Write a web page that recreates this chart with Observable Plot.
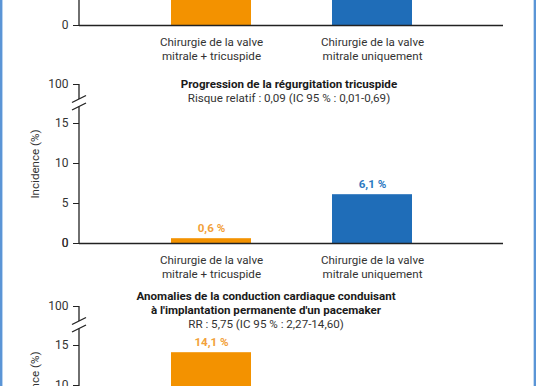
<!DOCTYPE html>
<html><head><meta charset="utf-8">
<script src="https://cdn.jsdelivr.net/npm/d3@7"></script>
<script src="https://cdn.jsdelivr.net/npm/@observablehq/plot@0.6"></script>
<style>
html,body{margin:0;padding:0;background:#fff;}
#wrap{position:relative;width:536px;height:386px;overflow:hidden;background:#fff;font-family:Roboto,sans-serif;}
.panel{position:absolute;left:0;}
.panel svg{background:transparent !important;}
.title{position:absolute;width:420px;text-align:center;font-size:11.6px;line-height:14px;color:#333;}
.title b{font-weight:700;color:#1a1a1a;}
.bl{position:absolute;top:0;height:386px;}
</style></head><body><div id="wrap"></div>
<script>
// ---- data ----
const categories = ["Chirurgie de la valve\nmitrale + tricuspide", "Chirurgie de la valve\nmitrale uniquement"];
const barColors = ["#F39200", "#1F6DB8"];
const labelColors = ["#F2A13A", "#2B79C2"];
const yTicks = [0, 5, 10, 15, 100];
const yLabel = "Incidence (%)";
// top panel (cut off in the picture: only the baseline is visible)
const valuesTop = [9.5, 10.5];
// middle panel
const titleMiddle = ["Progression de la régurgitation tricuspide"];
const subtitleMiddle = ["Risque relatif : 0,09 (IC 95 % : 0,01-0,69)"];
const valuesMiddle = [0.6, 6.1];
// bottom panel
const titleBottom = ["Anomalies de la conduction cardiaque conduisant", "à l'implantation permanente d'un pacemaker"];
const subtitleBottom = ["RR : 5,75 (IC 95 % : 2,27-14,60)"];
const valuesBottom = [14.1, 2.5];

const FONT = "Roboto, sans-serif";

const breakAxis = (index, scales, values, dims) => {
  const y = scales.y, x0 = dims.marginLeft;
  const top = y(yTicks[yTicks.length - 1]);
  const up = top + 15, lo = top + 22.5;
  const g = d3.create("svg:g").attr("stroke", "#222").attr("stroke-width", 1.3).attr("fill", "none");
  g.append("line").attr("x1", x0).attr("x2", x0).attr("y1", top).attr("y2", up);
  g.append("line").attr("x1", x0).attr("x2", x0).attr("y1", lo).attr("y2", y(0));
  for (const c of [up, lo]) g.append("line").attr("x1", x0 - 7).attr("x2", x0 + 7).attr("y1", c + 3.5).attr("y2", c - 3.5);
  return g.node();
};

function makePanel(values, full) {
  const data = categories.map((c, i) => ({cat: c, value: values[i], i,
    label: values[i].toFixed(1).replace(".", ",") + " %"}));
  const H = 270, mt = 60, y0 = 219;
  const marks = [
    Plot.barY(data, {x: "cat", y: "value", fill: "cat"}),
    Plot.ruleY([0], {stroke: "#222", strokeWidth: 1.3}),
    Plot.axisY({ticks: full ? yTicks : [], tickSize: 6, tickPadding: 5, label: null, stroke: "#222", fontSize: 12, tickFormat: d => String(d)}),
    Plot.axisY({ticks: [0], tickSize: 6, tickPadding: 5, label: null, stroke: "#222", fontSize: 12, tickFormat: d => String(d)}),
    Plot.axisX({tickSize: 0, tickPadding: 11, lineHeight: 1.2, label: null, fontSize: 11.6}),
    breakAxis
  ];
  if (full) {
    marks.push(Plot.text(data, {x: "cat", y: "value", text: "label", dy: -10, fill: d => labelColors[d.i], fontWeight: "bold", fontSize: 11.6}));
    marks.push(Plot.text([yLabel], {frameAnchor: "left", textAnchor: "middle", rotate: -90, dx: -44, text: d => d, fontSize: 11.6}));
  }
  return Plot.plot({
    width: 536, height: H, marginLeft: 79, marginRight: 33, marginTop: mt, marginBottom: H - y0,
    style: {background: "transparent", fontFamily: FONT, fontSize: "11.6px", color: "#333", overflow: "visible"},
    x: {domain: categories, paddingInner: 0.506, paddingOuter: 0.5617, axis: null},
    y: {type: "linear", domain: [0, 15, 100], range: [y0, y0 - 120, mt], axis: null},
    color: {domain: categories, range: barColors},
    marks
  });
}

const wrap = document.getElementById("wrap");
function addPanel(values, top, full) {
  const d = document.createElement("div");
  d.className = "panel"; d.style.top = top + "px";
  d.appendChild(makePanel(values, full));
  wrap.appendChild(d);
}
function addTitle(titleLines, subLines, left, top) {
  const d = document.createElement("div");
  d.className = "title"; d.style.left = left + "px"; d.style.top = top + "px";
  d.innerHTML = titleLines.map(t => "<b>" + t + "</b>").join("<br>") + "<br>" + subLines.join("<br>");
  wrap.appendChild(d);
}
addPanel(valuesTop, -194, false);
addPanel(valuesMiddle, 24, true);
addPanel(valuesBottom, 246, true);
addTitle(titleMiddle, subtitleMiddle, 79, 77);
addTitle(titleBottom, subtitleBottom, 56, 289);

for (const [l, w, c] of [[0, 2, "#5b95d6"], [2, 1, "#b8d3f0"], [533, 1, "#c5dcf3"], [534, 2, "#5b95d6"]]) {
  const b = document.createElement("div");
  b.className = "bl"; b.style.left = l + "px"; b.style.width = w + "px"; b.style.background = c;
  wrap.appendChild(b);
}
</script></body></html>
